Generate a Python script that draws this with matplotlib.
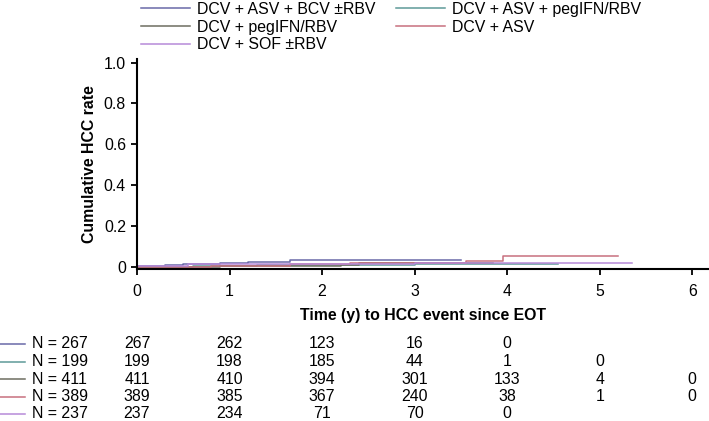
import matplotlib
matplotlib.use("Agg")
import matplotlib.pyplot as plt
import matplotlib.transforms as mtransforms
from matplotlib.lines import Line2D

plt.rcParams['font.family'] = ['Liberation Sans', 'DejaVu Sans']

groups = ["DCV + ASV + BCV \u00b1RBV", "DCV + ASV + pegIFN/RBV", "DCV + pegIFN/RBV",
          "DCV + ASV", "DCV + SOF \u00b1RBV"]
colors = ["#6a6aa8", "#5e9a98", "#6e6e60", "#c8707e", "#b68ad8"]
n_total = [267, 199, 411, 389, 237]

# step curves (time in years, cumulative rate)
times = [
    [0.0, 0.3, 0.5, 0.9, 1.05, 1.2, 1.65, 3.5],
    [0.0, 0.6, 1.3, 2.0, 3.0, 4.55],
    [0.0, 0.9, 1.7, 2.2, 2.4, 2.6, 3.85],
    [0.0, 0.8, 1.65, 2.3, 3.55, 3.95, 5.2],
    [0.0, 0.55, 1.75, 3.0, 5.35],
]
rates = [
    [0.005, 0.008, 0.012, 0.016, 0.02, 0.025, 0.032, 0.032],
    [0.0, 0.004, 0.008, 0.01, 0.013, 0.013],
    [0.0, 0.003, 0.006, 0.011, 0.02, 0.02, 0.02],
    [0.0, 0.005, 0.012, 0.018, 0.03, 0.055, 0.055],
    [0.003, 0.012, 0.015, 0.016, 0.016],
]

risk_times = [0, 1, 2, 3, 4, 5, 6]
at_risk = [
    [267, 262, 123, 16, 0],
    [199, 198, 185, 44, 1, 0],
    [411, 410, 394, 301, 133, 4, 0],
    [389, 385, 367, 240, 38, 1, 0],
    [237, 234, 71, 70, 0],
]

FS = 11.4
W, H = 709, 421
fig = plt.figure(figsize=(W / 100, H / 100), dpi=100)
ax = fig.add_axes([137 / W, 1 - 269 / H, (708 - 137) / W, (269 - 59) / H])

for t, r, c in zip(times, rates, colors):
    ax.step(t, r, where='post', color=c, lw=1.1)

ax.set_xlim(0, 6.17)
ax.set_ylim(-0.011, 1.018)
ax.set_xticks(range(7))
ax.set_yticks([0, 0.2, 0.4, 0.6, 0.8, 1.0])
ax.set_yticklabels(["0", "0.2", "0.4", "0.6", "0.8", "1.0"])
for s in ["top", "right"]:
    ax.spines[s].set_visible(False)
for s in ["left", "bottom"]:
    ax.spines[s].set_linewidth(1.5)
ax.tick_params(direction='out', length=4.5, width=1.3, labelsize=FS)
ax.tick_params(axis='x', pad=6)
ax.tick_params(axis='y', pad=3.5)
ax.set_ylabel("Cumulative HCC rate", fontsize=FS, fontweight='bold', labelpad=5)
ax.set_xlabel("Time (y) to HCC event since EOT", fontsize=FS, fontweight='bold', labelpad=7)

# legend
order = [0, 2, 4, 1, 3]
handles = [Line2D([0], [0], color=colors[i], lw=1.1) for i in order]
labels = [groups[i] for i in order]
fig.legend(handles, labels, loc='upper left', bbox_to_anchor=(141 / W, 1 - 2 / H),
           ncol=2, frameon=False, fontsize=FS, handlelength=3.1, handletextpad=0.45,
           columnspacing=1.3, labelspacing=0.17, borderpad=0, borderaxespad=0)

# risk table
row_y = [344, 361.5, 379, 396.5, 414]
trans = mtransforms.blended_transform_factory(ax.transData, fig.transFigure)
for i in range(5):
    yf = 1 - row_y[i] / H
    fig.add_artist(Line2D([0, 25 / W], [yf, yf], color=colors[i], lw=1.1,
                          transform=fig.transFigure))
    fig.text(32 / W, yf, f"N = {n_total[i]}", fontsize=FS, va='center', ha='left')
    for t, v in zip(risk_times, at_risk[i]):
        fig.text(t, yf, str(v), transform=trans, fontsize=FS, va='center', ha='center')

fig.savefig("out.png", dpi=100)
